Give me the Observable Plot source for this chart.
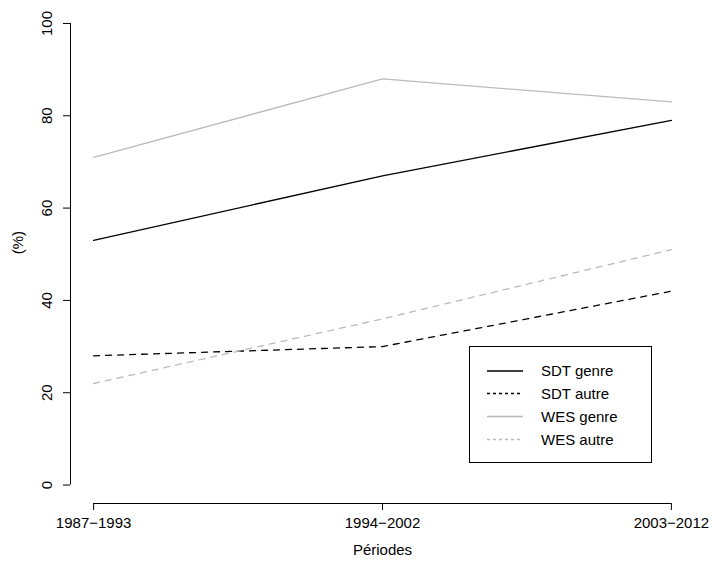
<!DOCTYPE html>
<html>
<head>
<meta charset="utf-8">
<script src="https://cdn.jsdelivr.net/npm/d3@7"></script>
<script src="https://cdn.jsdelivr.net/npm/@observablehq/plot@0.6"></script>
<style>
  html, body { margin: 0; padding: 0; background: #fff; }
  #chart { position: relative; width: 712px; height: 561px; }
  svg { font-family: "Liberation Sans", Arial, sans-serif; }
</style>
</head>
<body>
<div id="chart"></div>
<script>
const periods = ["1987\u22121993", "1994\u22122002", "2003\u22122012"];
const sdtGenre = [53, 67, 79];
const sdtAutre = [28, 30, 42];
const wesGenre = [71, 88, 83];
const wesAutre = [22, 36, 51];
const yTicks = [0, 20, 40, 60, 80, 100];
const seriesNames = ["SDT genre", "SDT autre", "WES genre", "WES autre"];
const seriesValues = [sdtGenre, sdtAutre, wesGenre, wesAutre];
const seriesColors = ["#000000", "#000000", "#bbbbbb", "#bbbbbb"];
const seriesDash = [null, "6,6", null, "6,6"];

const data = [];
seriesNames.forEach((name, s) => {
  seriesValues[s].forEach((v, i) => data.push({series: name, idx: i + 1, value: v}));
});

const FONT = 15;
const marks = [
  Plot.ruleX([0.92], {y1: 0, y2: 100, stroke: "#000", strokeWidth: 1}),
  Plot.ruleY([-4], {x1: 1, x2: 3, stroke: "#000", strokeWidth: 1}),
  Plot.axisY({ticks: yTicks, tickSize: 7, tickFormat: () => "", label: null, stroke: "#000"}),
  Plot.axisX({ticks: [1, 2, 3], tickSize: 7, tickPadding: 7, tickFormat: i => periods[i - 1], label: null, fontSize: FONT, fill: "#000"}),
  Plot.text(yTicks, {x: 0.92, y: d => d, text: d => String(d), rotate: -90, dx: -23, fontSize: FONT, fill: "#000"}),
  Plot.text(["Périodes"], {frameAnchor: "bottom", dy: 51, fontSize: FONT, fill: "#000"}),
  Plot.text(["(%)"], {frameAnchor: "left", dx: -52, rotate: -90, fontSize: FONT, fill: "#000"})
];
seriesNames.forEach((name, s) => {
  marks.push(Plot.line(data.filter(d => d.series === name), {
    x: "idx", y: "value", stroke: seriesColors[s], strokeWidth: 1.3,
    strokeDasharray: seriesDash[s]
  }));
});

const plot = Plot.plot({
  width: 712,
  height: 561,
  marginLeft: 70,
  marginRight: 18,
  marginTop: 4.5,
  marginBottom: 58,
  style: {fontFamily: "'Liberation Sans', Arial, sans-serif", fontSize: FONT + "px", background: "#fff", color: "#000"},
  x: {type: "linear", domain: [0.92, 3.08]},
  y: {type: "linear", domain: [-4, 104]},
  marks
});
document.getElementById("chart").appendChild(plot);

// Legend (R-style box)
const svg = d3.select(plot);
const lg = svg.append("g").attr("class", "legend").attr("text-anchor", "start");
lg.append("rect").attr("x", 469.5).attr("y", 346.5).attr("width", 182).attr("height", 116)
  .attr("fill", "#fff").attr("stroke", "#000").attr("stroke-width", 1);
const rowY = [371, 393.5, 416.5, 439.5];
seriesNames.forEach((name, s) => {
  lg.append("line").attr("x1", 487).attr("x2", 523).attr("y1", rowY[s]).attr("y2", rowY[s])
    .attr("stroke", seriesColors[s]).attr("stroke-width", 1.3)
    .attr("stroke-dasharray", seriesDash[s] ? "3,3" : null);
  lg.append("text").attr("x", 541).attr("y", rowY[s]).attr("dy", "0.35em")
    .attr("text-anchor", "start")
    .attr("font-size", FONT).attr("fill", "#000").text(name);
});
</script>
</body>
</html>
